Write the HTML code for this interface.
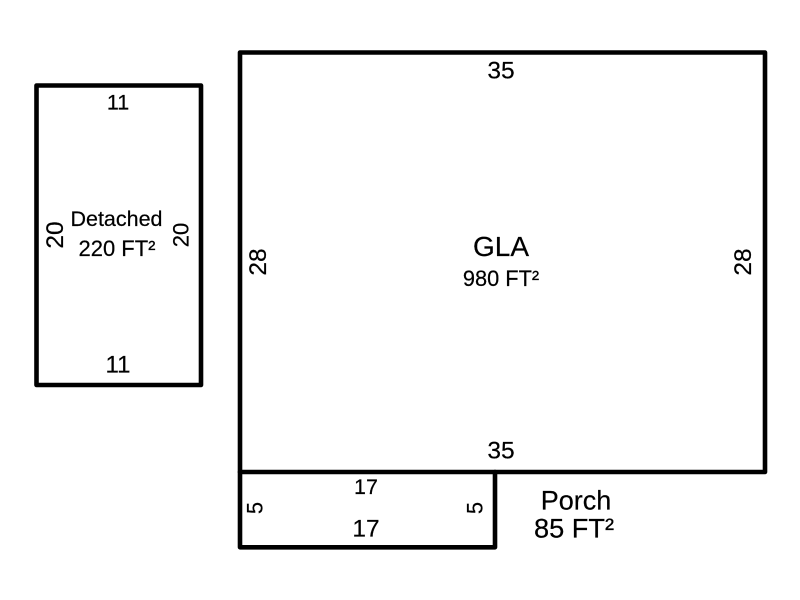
<!DOCTYPE html>
<html><head><meta charset="utf-8"><style>
html,body{margin:0;padding:0;background:#fff}
svg{display:block}
text{font-family:"Liberation Sans",Arial,sans-serif;fill:#000;text-anchor:middle;stroke:#000;stroke-width:.2}
rect,path{fill:none;stroke:#000;stroke-width:4.6;stroke-linejoin:round;stroke-linecap:round}
</style></head><body>
<svg width="800" height="600" viewBox="0 0 800 600" xmlns="http://www.w3.org/2000/svg">
<rect x="36.5" y="85.5" width="164.5" height="299.5"/>
<rect x="240" y="52.5" width="525" height="419.5"/>
<path d="M240 472V547.3H495V472"/>
<text x="118" y="109.5" font-size="21.5">11</text>
<text x="118" y="372.5" font-size="24">11</text>
<text x="116.5" y="226" font-size="21.5">Detached</text>
<text x="117" y="256" font-size="22">220 FT²</text>
<text transform="translate(63 235) rotate(-90)" font-size="24.5">20</text>
<text transform="translate(188.5 235) rotate(-90)" font-size="22">20</text>
<text x="501" y="78.5" font-size="24.5">35</text>
<text x="501" y="458.5" font-size="24.5">35</text>
<text x="501" y="256" font-size="28">GLA</text>
<text x="501" y="286" font-size="21.8">980 FT²</text>
<text transform="translate(266 262) rotate(-90)" font-size="24.5">28</text>
<text transform="translate(751 262) rotate(-90)" font-size="24.5">28</text>
<text x="366" y="494" font-size="21.5">17</text>
<text x="366" y="536.5" font-size="24.5">17</text>
<text transform="translate(262.5 508) rotate(-90)" font-size="22">5</text>
<text transform="translate(482.5 508) rotate(-90)" font-size="22">5</text>
<text x="576" y="509.5" font-size="27">Porch</text>
<text x="574" y="537.5" font-size="27.2">85 FT²</text>
</svg>
</body></html>
